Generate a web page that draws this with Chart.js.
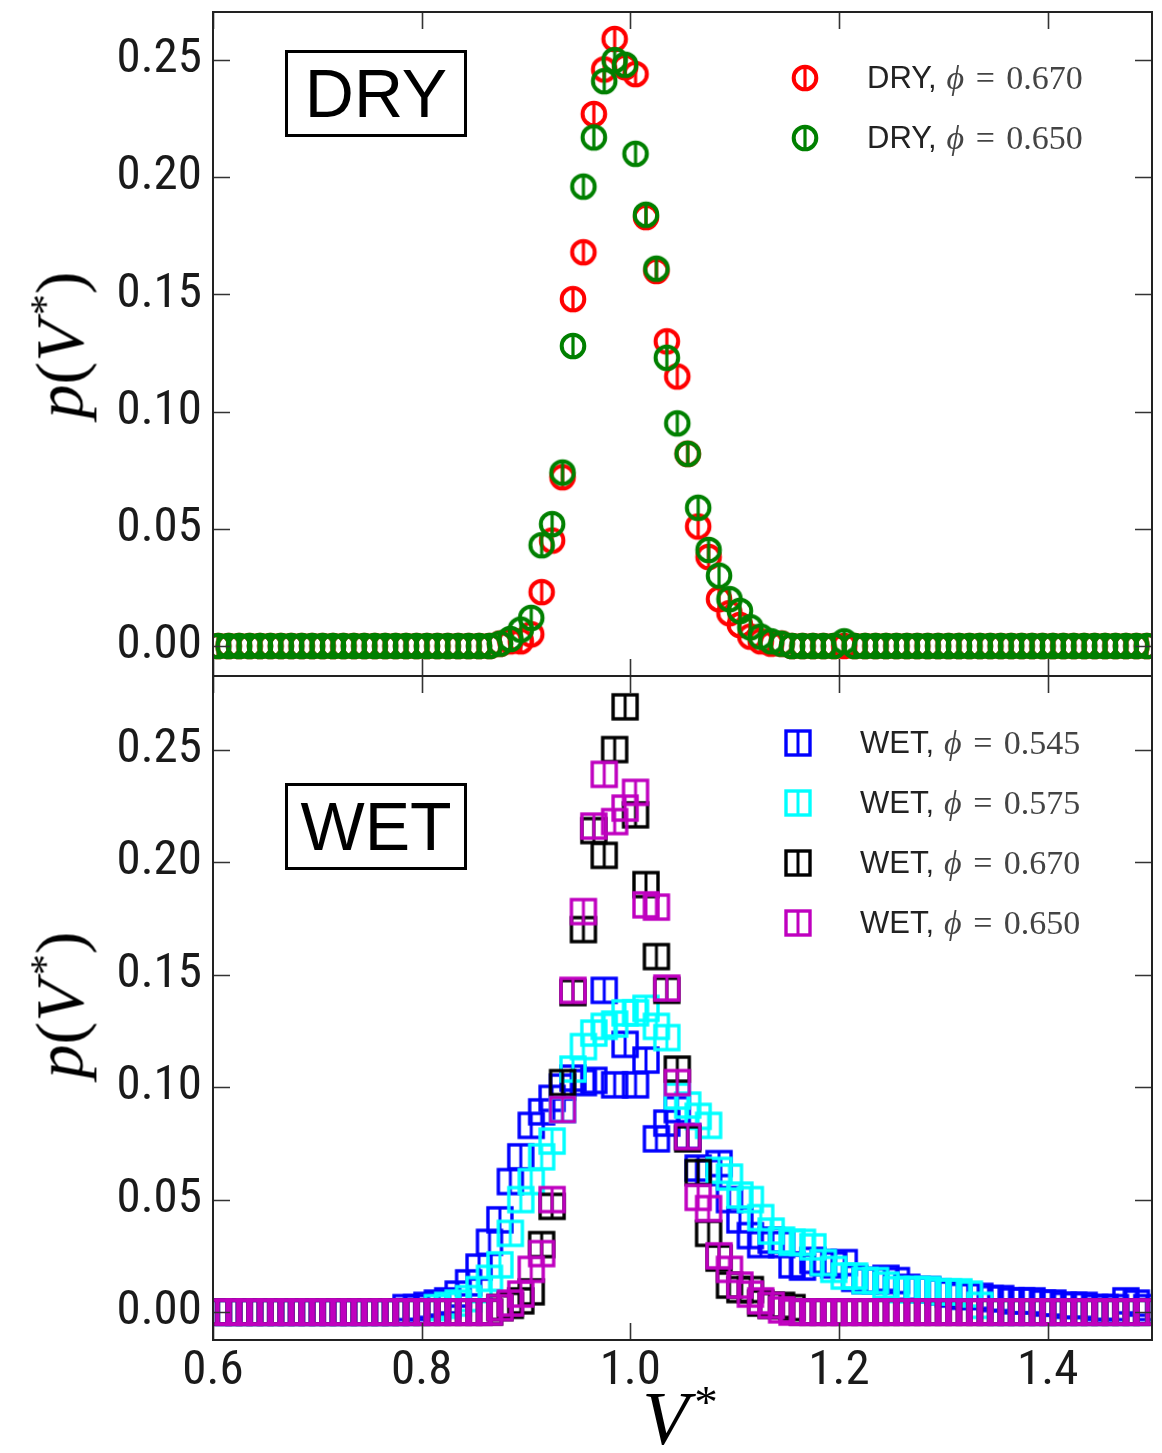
<!DOCTYPE html>
<html>
<head>
    <title>p(V*) DRY and WET</title>
    <script src="https://cdn.jsdelivr.net/npm/chart.js"></script>
    <style>
        body { margin: 0; background: #fff; width: 1162px; height: 1453px; position: relative; overflow: hidden; }
        canvas.panel { position: absolute; left: 0; }
        .tag { position: absolute; border: 3.5px solid #000; box-sizing: border-box; width: 182px; height: 87px;
               font-family: 'Liberation Sans', Arial, sans-serif; font-size: 68px; line-height: 80px; text-align: center; color: #000; }
        .legend-row { position: absolute; height: 40px; display: flex; align-items: center; white-space: nowrap; }
        .legend-row canvas { margin-right: 47px; }
        .legend-row .name { font-family: 'Liberation Sans', Arial, sans-serif; font-size: 31px; color: #222; }
        .legend-row .math { font-family: 'Liberation Serif', 'DejaVu Serif', serif; font-size: 34px; color: #444; margin-left: 10px; word-spacing: 3px; }
        .ytitle { position: absolute; font-family: 'Liberation Serif', 'DejaVu Serif', serif; font-size: 68px; color: #000;
                  transform: translate(-50%, -50%) rotate(-90deg); white-space: nowrap; }
        .xtitle { position: absolute; font-family: 'Liberation Serif', 'DejaVu Serif', serif; font-size: 76px; color: #000;
                  transform: translate(-50%, -50%); white-space: nowrap; }
        sup { font-size: 0.62em; vertical-align: 0.55em; font-style: normal; margin-left: 0.12em; }
    </style>
</head>
<body>
    <canvas id="dryChart" class="panel" width="1162" height="678" style="top:0"></canvas>
    <canvas id="wetChart" class="panel" width="1162" height="779" style="top:674px"></canvas>

    <div class="tag" style="left:285px; top:50px;">DRY</div>
    <div class="tag" style="left:285px; top:783px;">WET</div>
    <div id="dryLegend"></div>
    <div id="wetLegend"></div>
    <div class="ytitle" style="left:60px; top:345px;"><i>p</i>(<i>V</i><sup>*</sup>)</div>
    <div class="ytitle" style="left:60px; top:1005px;"><i>p</i>(<i>V</i><sup>*</sup>)</div>
    <div class="xtitle" style="left:680px; top:1418px;"><i>V</i><sup>*</sup></div>

    <script>
        // bin centres of V* (histogram bins of width 0.01)
        const vBins = [
            0.605, 0.615, 0.625, 0.635, 0.645, 0.655, 0.665, 0.675, 0.685, 0.695,
            0.705, 0.715, 0.725, 0.735, 0.745, 0.755, 0.765, 0.775, 0.785, 0.795,
            0.805, 0.815, 0.825, 0.835, 0.845, 0.855, 0.865, 0.875, 0.885, 0.895,
            0.905, 0.915, 0.925, 0.935, 0.945, 0.955, 0.965, 0.975, 0.985, 0.995,
            1.005, 1.015, 1.025, 1.035, 1.045, 1.055, 1.065, 1.075, 1.085, 1.095,
            1.105, 1.115, 1.125, 1.135, 1.145, 1.155, 1.165, 1.175, 1.185, 1.195,
            1.205, 1.215, 1.225, 1.235, 1.245, 1.255, 1.265, 1.275, 1.285, 1.295,
            1.305, 1.315, 1.325, 1.335, 1.345, 1.355, 1.365, 1.375, 1.385, 1.395,
            1.405, 1.415, 1.425, 1.435, 1.445, 1.455, 1.465, 1.475, 1.485, 1.495
        ];

        // DRY, phi = 0.670 (red)
        const dry670 = [
            0, 0, 0, 0, 0, 0, 0, 0, 0, 0,
            0, 0, 0, 0, 0, 0, 0, 0, 0, 0,
            0, 0, 0, 0, 0, 0, 0, 0.001, 0.002, 0.002,
            0.005, 0.023, 0.045, 0.072, 0.148, 0.168, 0.227, 0.246, 0.259, 0.247,
            0.244, 0.183, 0.160, 0.130, 0.115, 0.082, 0.051, 0.038, 0.020, 0.014,
            0.009, 0.004, 0.002, 0.001, 0.001, 0, 0, 0, 0, 0,
            0, 0, 0, 0, 0, 0, 0, 0, 0, 0,
            0, 0, 0, 0, 0, 0, 0, 0, 0, 0,
            0, 0, 0, 0, 0, 0, 0, 0, 0, 0
        ];
        // DRY, phi = 0.650 (green)
        const dry650 = [
            0, 0, 0, 0, 0, 0, 0, 0, 0, 0,
            0, 0, 0, 0, 0, 0, 0, 0, 0, 0,
            0, 0, 0, 0, 0, 0, 0, 0.001, 0.003, 0.007,
            0.012, 0.043, 0.052, 0.074, 0.128, 0.196, 0.217, 0.241, 0.250, 0.248,
            0.210, 0.184, 0.161, 0.123, 0.095, 0.082, 0.059, 0.041, 0.030, 0.020,
            0.015, 0.008, 0.004, 0.002, 0.001, 0, 0, 0, 0, 0,
            0.002, 0, 0, 0, 0, 0, 0, 0, 0, 0,
            0, 0, 0, 0, 0, 0, 0, 0, 0, 0,
            0, 0, 0, 0, 0, 0, 0, 0, 0, 0
        ];
        // WET, phi = 0.545 (blue)
        const wet545 = [
            0, 0, 0, 0, 0, 0, 0, 0, 0, 0,
            0, 0, 0, 0, 0, 0, 0, 0, 0.002, 0.002,
            0.003, 0.004, 0.005, 0.008, 0.013, 0.020, 0.031, 0.041, 0.058, 0.069,
            0.083, 0.089, 0.095, 0.100, 0.104, 0.102, 0.103, 0.143, 0.101, 0.119,
            0.101, 0.112, 0.077, 0.084, 0.090, 0.078, 0.064, 0.062, 0.066, 0.050,
            0.041, 0.034, 0.030, 0.032, 0.030, 0.021, 0.020, 0.023, 0.022, 0.021,
            0.022, 0.015, 0.014, 0.014, 0.015, 0.014, 0.011, 0.010, 0.010, 0.009,
            0.008, 0.007, 0.007, 0.007, 0.006, 0.006, 0.005, 0.005, 0.005, 0.004,
            0.004, 0.003, 0.003, 0.003, 0.002, 0.002, 0.002, 0.005, 0.004, 0.002
        ];
        // WET, phi = 0.575 (cyan)
        const wet575 = [
            0, 0, 0, 0, 0, 0, 0, 0, 0, 0,
            0, 0, 0, 0, 0, 0, 0, 0, 0, 0,
            0, 0.002, 0.003, 0.004, 0.006, 0.010, 0.015, 0.021, 0.035, 0.050,
            0.058, 0.069, 0.076, 0.090, 0.108, 0.118, 0.124, 0.127, 0.128, 0.133,
            0.133, 0.135, 0.127, 0.122, 0.096, 0.092, 0.087, 0.083, 0.063, 0.060,
            0.052, 0.050, 0.042, 0.036, 0.032, 0.031, 0.031, 0.029, 0.022, 0.019,
            0.016, 0.016, 0.014, 0.014, 0.012, 0.010, 0.010, 0.010, 0.010, 0.009,
            0.009, 0.009, 0.008, 0.003, 0, 0, 0, 0, 0, 0,
            0, 0, 0, 0, 0, 0, 0, 0, 0, 0
        ];
        // WET, phi = 0.670 (black)
        const wet670 = [
            0, 0, 0, 0, 0, 0, 0, 0, 0, 0,
            0, 0, 0, 0, 0, 0, 0, 0, 0, 0,
            0, 0, 0, 0, 0, 0, 0, 0.002, 0.003, 0.005,
            0.009, 0.030, 0.047, 0.102, 0.142, 0.170, 0.214, 0.203, 0.250, 0.269,
            0.221, 0.190, 0.158, 0.143, 0.108, 0.077, 0.062, 0.035, 0.024, 0.012,
            0.010, 0.010, 0.004, 0.003, 0.003, 0.002, 0, 0, 0, 0,
            0, 0, 0, 0, 0, 0, 0, 0, 0, 0,
            0, 0, 0, 0, 0, 0, 0, 0, 0, 0,
            0, 0, 0, 0, 0, 0, 0, 0, 0, 0
        ];
        // WET, phi = 0.650 (magenta)
        const wet650 = [
            0, 0, 0, 0, 0, 0, 0, 0, 0, 0,
            0, 0, 0, 0, 0, 0, 0, 0, 0, 0,
            0, 0, 0, 0, 0, 0, 0, 0.002, 0.004, 0.008,
            0.019, 0.026, 0.050, 0.090, 0.143, 0.178, 0.216, 0.239, 0.218, 0.224,
            0.231, 0.181, 0.180, 0.144, 0.102, 0.078, 0.051, 0.046, 0.025, 0.019,
            0.012, 0.008, 0.005, 0.003, 0.001, 0, 0, 0, 0, 0,
            0, 0, 0, 0, 0, 0, 0, 0, 0, 0,
            0, 0, 0, 0, 0, 0, 0, 0, 0, 0,
            0, 0, 0, 0, 0, 0, 0, 0, 0, 0
        ];

        const xTicks = [0.6, 0.8, 1.0, 1.2, 1.4];
        const yTicks = [0, 0.05, 0.10, 0.15, 0.20, 0.25];

        const tickFont = { family: "'Liberation Sans Narrow', 'Arial Narrow', 'Roboto Condensed', sans-serif", size: 49 };

        // marker images: open circle / open square with a vertical bar through it
        function circleMarker(color) {
            const c = document.createElement('canvas');
            c.width = 30; c.height = 30;
            const g = c.getContext('2d');
            g.strokeStyle = color;
            g.lineWidth = 4;
            g.beginPath(); g.arc(15, 15, 11.3, 0, Math.PI * 2); g.stroke();
            g.lineWidth = 3.2;
            g.beginPath(); g.moveTo(15, 3.5); g.lineTo(15, 26.5); g.stroke();
            return c;
        }
        function squareMarker(color) {
            const c = document.createElement('canvas');
            c.width = 30; c.height = 30;
            const g = c.getContext('2d');
            g.strokeStyle = color;
            g.lineWidth = 3.4;
            g.strokeRect(3, 3, 24, 24);
            g.lineWidth = 3;
            g.beginPath(); g.moveTo(15, 3); g.lineTo(15, 27); g.stroke();
            return c;
        }

        function toPoints(ys) {
            return vBins.map((v, i) => ({ x: v, y: ys[i] }));
        }

        // frame and inward ticks on all four sides
        const framePlugin = {
            id: 'frame',
            afterDatasetsDraw(chart) {
                const { ctx, chartArea: a, scales } = chart;
                const len = 17;
                ctx.save();
                ctx.strokeStyle = '#333';
                ctx.lineWidth = 1.6;
                ctx.beginPath();
                xTicks.forEach(v => {
                    const px = Math.round(scales.x.getPixelForValue(v)) + 0.5;
                    ctx.moveTo(px, a.bottom); ctx.lineTo(px, a.bottom - len);
                    ctx.moveTo(px, a.top); ctx.lineTo(px, a.top + len);
                });
                yTicks.forEach(v => {
                    const py = Math.round(scales.y.getPixelForValue(v)) + 0.5;
                    ctx.moveTo(a.left, py); ctx.lineTo(a.left + len, py);
                    ctx.moveTo(a.right, py); ctx.lineTo(a.right - len, py);
                });
                ctx.stroke();
                ctx.strokeStyle = '#222';
                ctx.lineWidth = 2;
                ctx.strokeRect(a.left, a.top, a.right - a.left, a.bottom - a.top);
                ctx.restore();
            }
        };

        function yScale(min, max) {
            return {
                type: 'linear', min: min, max: max,
                afterFit(s) { s.width = 213; s.paddingTop = 0; s.paddingBottom = 0; },
                afterBuildTicks(s) { s.ticks = yTicks.map(v => ({ value: v })); },
                ticks: { font: tickFont, color: '#1a1a1a', padding: 11, callback: v => v.toFixed(2) },
                grid: { display: false, drawTicks: false },
                border: { display: false }
            };
        }

        function makeChart(id, datasets, showX, yMin, yMax, padding) {
            const ctx = document.getElementById(id).getContext('2d');
            return new Chart(ctx, {
                type: 'scatter',
                data: { datasets: datasets },
                options: {
                    responsive: false,
                    animation: false,
                    devicePixelRatio: 1,
                    layout: { padding: padding, autoPadding: false },
                    plugins: { legend: { display: false }, tooltip: { enabled: false } },
                    scales: {
                        x: {
                            type: 'linear', min: 0.6, max: 1.5,
                            afterFit(s) { s.height = showX ? 113 : 0; s.paddingLeft = 0; s.paddingRight = 0; },
                            afterBuildTicks(s) { s.ticks = xTicks.map(v => ({ value: v })); },
                            ticks: { display: showX, font: tickFont, color: '#1a1a1a', padding: 2, maxRotation: 0, autoSkip: false,
                                     callback: v => v.toFixed(1) },
                            grid: { display: false, drawTicks: false },
                            border: { display: false }
                        },
                        y: yScale(yMin, yMax)
                    }
                },
                plugins: [framePlugin]
            });
        }

        const drySeries = [
            { label: 'DRY', phi: '0.670', color: '#ff0000', data: dry670, order: 1 },
            { label: 'DRY', phi: '0.650', color: '#008000', data: dry650, order: 0 }
        ];
        const wetSeries = [
            { label: 'WET', phi: '0.545', color: '#0000ff', data: wet545, order: 3 },
            { label: 'WET', phi: '0.575', color: '#00ffff', data: wet575, order: 2 },
            { label: 'WET', phi: '0.670', color: '#000000', data: wet670, order: 1 },
            { label: 'WET', phi: '0.650', color: '#bf00bf', data: wet650, order: 0 }
        ];

        makeChart('dryChart', drySeries.map(s => ({
            label: s.label + ', phi = ' + s.phi,
            data: toPoints(s.data),
            pointStyle: circleMarker(s.color),
            pointRadius: 13,
            order: s.order,
            clip: 0
        })), false, -0.0128, 0.2705, { top: 12, right: 10, bottom: 2, left: 0 });

        makeChart('wetChart', wetSeries.map(s => ({
            label: s.label + ', phi = ' + s.phi,
            data: toPoints(s.data),
            pointStyle: squareMarker(s.color),
            pointRadius: 13,
            order: s.order,
            clip: 0
        })), true, -0.0124, 0.2827, { top: 2, right: 10, bottom: 0, left: 0 });

        // legends
        function buildLegend(holderId, series, markerFn, left, top, step) {
            const holder = document.getElementById(holderId);
            series.forEach((s, i) => {
                const row = document.createElement('div');
                row.className = 'legend-row';
                row.style.left = left + 'px';
                row.style.top = (top + i * step - 20) + 'px';
                row.appendChild(markerFn(s.color));
                const name = document.createElement('span');
                name.className = 'name';
                name.textContent = s.label + ',';
                const math = document.createElement('span');
                math.className = 'math';
                math.innerHTML = '<i>\u03d5</i> = ' + s.phi;
                row.appendChild(name);
                row.appendChild(math);
                holder.appendChild(row);
            });
        }
        buildLegend('dryLegend', drySeries, circleMarker, 790, 78, 60);
        buildLegend('wetLegend', wetSeries, squareMarker, 783, 743, 60);
    </script>
</body>
</html>
